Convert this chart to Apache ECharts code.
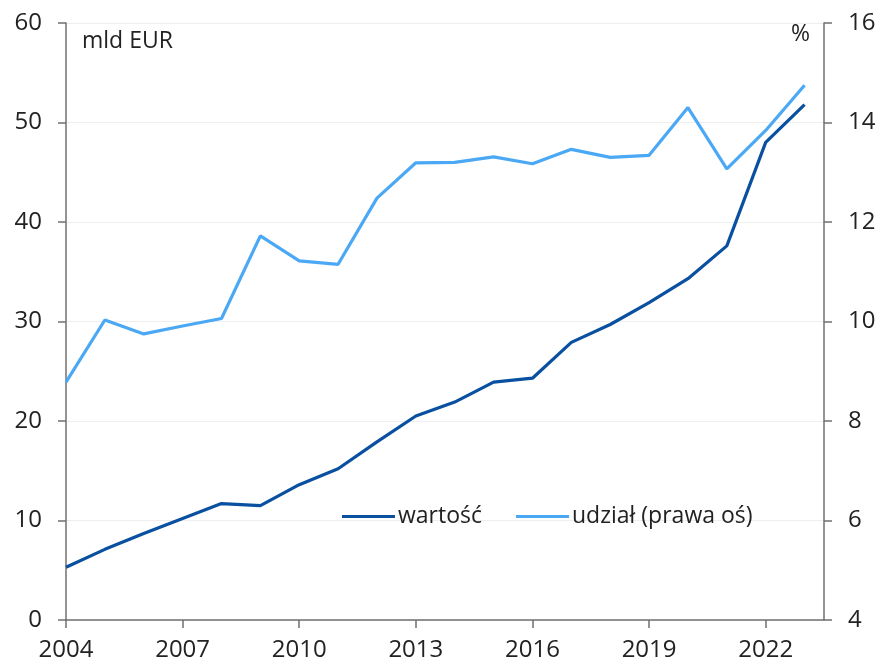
<!DOCTYPE html>
<html>
<head>
<meta charset="utf-8">
<script src="https://cdn.jsdelivr.net/npm/echarts@6/dist/echarts.min.js"></script>
<style>
  html, body { margin: 0; padding: 0; background: #fff; }
  #chart { width: 882px; height: 664px; }
</style>
</head>
<body>
<div id="chart"></div>
<script>
// lata
const years = [2004, 2005, 2006, 2007, 2008, 2009, 2010, 2011, 2012, 2013,
  2014, 2015, 2016, 2017, 2018, 2019, 2020, 2021, 2022, 2023]
// wartość, mld EUR (lewa oś)
const wartosc = [5.3, 7.1, 8.7, 10.2, 11.7, 11.5, 13.6, 15.2, 17.9, 20.5,
  21.9, 23.9, 24.3, 27.9, 29.7, 31.9, 34.3, 37.6, 48.0, 51.8]
// udział, % (prawa oś)
const udzial = [8.78, 10.03, 9.75, 9.91, 10.06, 11.72, 11.22, 11.15, 12.48, 13.19,
  13.2, 13.31, 13.17, 13.46, 13.3, 13.34, 14.3, 13.07, 13.84, 14.75]
const xTicks = [2004, 2007, 2010, 2013, 2016, 2019, 2022]

const FONT = 'Open Sans'
const TXT = '#222'
const AXIS = '#707070'

const chart = echarts.init(document.getElementById('chart'))

const option = {
  backgroundColor: '#fff',
  animation: false,
  textStyle: { fontFamily: FONT },
  grid: { left: 66, right: 58, top: 23, bottom: 44 },
  legend: {
    left: 337,
    top: 500,
    icon: 'rect',
    itemWidth: 53,
    itemHeight: 3,
    itemGap: 34,
    textStyle: { fontSize: 23, color: TXT, fontFamily: FONT, padding: [0, 0, 0, -2] },
    data: ['wartość', 'udział (prawa oś)']
  },
  graphic: [
    { type: 'text', left: 82, top: 30, style: { text: 'mld EUR', fontSize: 23, fill: TXT, fontFamily: FONT } },
    { type: 'text', left: 791, top: 23, style: { text: '%', fontSize: 23, fill: TXT, fontFamily: FONT } }
  ],
  xAxis: {
    type: 'value',
    min: 2004,
    max: 2023.5,
    interval: 3,
    splitLine: { show: false },
    axisLine: { lineStyle: { color: AXIS, width: 1.5 } },
    axisTick: { show: true, length: 8, customValues: xTicks, lineStyle: { color: AXIS, width: 1.5 } },
    axisLabel: { customValues: xTicks, fontSize: 24, color: TXT, margin: 18, fontFamily: FONT,
      formatter: v => String(v) }
  },
  yAxis: [
    {
      type: 'value',
      min: 0, max: 60, interval: 10,
      axisLine: { show: true, lineStyle: { color: AXIS, width: 1.5 } },
      axisTick: { show: true, length: 8, lineStyle: { color: AXIS, width: 1.5 } },
      axisLabel: { fontSize: 24, color: TXT, margin: 24, fontFamily: FONT },
      splitLine: { lineStyle: { color: '#eeeeee', width: 1 } }
    },
    {
      type: 'value',
      min: 4, max: 16, interval: 2,
      position: 'right',
      axisLine: { show: true, lineStyle: { color: AXIS, width: 1.5 } },
      axisTick: { show: true, length: 8, lineStyle: { color: AXIS, width: 1.5 } },
      axisLabel: { fontSize: 24, color: TXT, margin: 24, fontFamily: FONT },
      splitLine: { show: false }
    }
  ],
  series: [
    {
      name: 'wartość',
      type: 'line',
      yAxisIndex: 0,
      symbol: 'none',
      data: years.map((y, i) => [y, wartosc[i]]),
      lineStyle: { color: '#0a50a0', width: 3.2 },
      itemStyle: { color: '#0a50a0' }
    },
    {
      name: 'udział (prawa oś)',
      type: 'line',
      yAxisIndex: 1,
      symbol: 'none',
      data: years.map((y, i) => [y, udzial[i]]),
      lineStyle: { color: '#4aa8f5', width: 3.2 },
      itemStyle: { color: '#4aa8f5' }
    }
  ]
}

chart.setOption(option)
window.addEventListener('resize', chart.resize)
</script>
</body>
</html>
